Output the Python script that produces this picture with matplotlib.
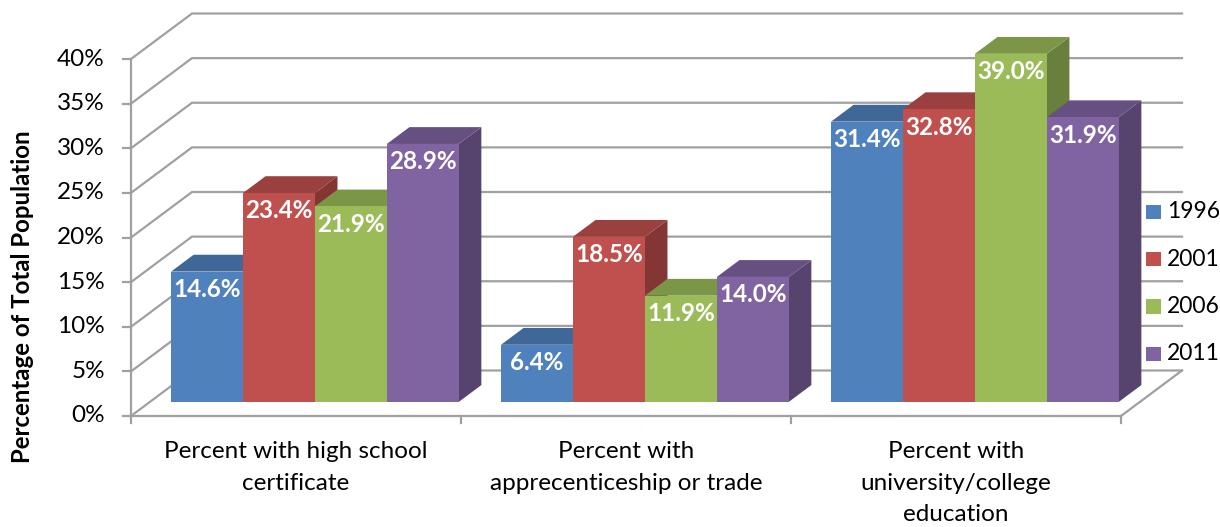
import matplotlib
matplotlib.use("Agg")
import matplotlib.pyplot as plt
from matplotlib.patches import Polygon, Rectangle
from matplotlib.colors import to_rgb

# Education levels by census year
categories = [["Percent with high school", "certificate"],
              ["Percent with", "apprecenticeship or trade"],
              ["Percent with", "university/college", "education"]]
years = ["1996", "2001", "2006", "2011"]
values = {
    "1996": [14.6, 6.4, 31.4],
    "2001": [23.4, 18.5, 32.8],
    "2006": [21.9, 11.9, 39.0],
    "2011": [28.9, 14.0, 31.9],
}
colors = ["#4F81BD", "#C0504D", "#9BBB59", "#8064A2"]
yticks = [0, 5, 10, 15, 20, 25, 30, 35, 40]

plt.rcParams["font.family"] = ["Lato", "DejaVu Sans"]

# oblique projection: depth d in [0, 1] shifts up and to the right
DX = 61 / 330
DY = 45.5 / 8.925
grid_col = "#A0A0A0"
bar_w = 0.218
gap = (1 - 4 * bar_w) / 2
d_front, d_back = 0.31, 0.68


def proj(x, y, d):
    return (x + d * DX, y + d * DY)


def shade(c, f):
    r, g, b = to_rgb(c)
    return (r * f, g * f, b * f)


fig = plt.figure(figsize=(12.2, 5.27), dpi=100)
ax = fig.add_axes([0, 0, 1, 1])
ax.set_xlim(-131 / 330, (1220 - 131) / 330)
ax.set_ylim((416 - 527) / 8.925, 416 / 8.925)
ax.axis("off")

n = len(categories)
lw = 1.6

# back wall gridlines + left wall diagonals
for t in yticks:
    ax.plot(*zip(proj(0, t, 0), proj(0, t, 1), proj(n, t, 1)),
            color=grid_col, lw=lw, zorder=1, solid_joinstyle="miter")
    ax.plot([-0.025, 0], [t, t], color=grid_col, lw=lw, zorder=1)
# left axis line and floor
ax.plot([0, 0], [0, yticks[-1]], color=grid_col, lw=lw, zorder=1)
ax.plot([0, n], [0, 0], color=grid_col, lw=lw, zorder=1)
ax.plot(*zip(proj(n, 0, 0), proj(n, 0, 1)), color=grid_col, lw=lw, zorder=1)
for i in range(n + 1):
    ax.plot([i, i], [0, -0.8], color=grid_col, lw=lw, zorder=1)

# 3D bars, drawn left to right so each covers its neighbour's side face
z = 2
for i in range(n):
    for k, yr in enumerate(years):
        v = values[yr][i]
        c = colors[k]
        x0 = i + gap + k * bar_w
        x1 = x0 + bar_w
        front = [proj(x0, 0, d_front), proj(x1, 0, d_front),
                 proj(x1, v, d_front), proj(x0, v, d_front)]
        top = [proj(x0, v, d_front), proj(x1, v, d_front),
               proj(x1, v, d_back), proj(x0, v, d_back)]
        side = [proj(x1, 0, d_front), proj(x1, 0, d_back),
                proj(x1, v, d_back), proj(x1, v, d_front)]
        ax.add_patch(Polygon(side, closed=True, fc=shade(c, 0.68), ec="none", zorder=z))
        ax.add_patch(Polygon(top, closed=True, fc=shade(c, 0.8), ec="none", zorder=z))
        ax.add_patch(Polygon(front, closed=True, fc=c, ec="none", zorder=z))
        lx, ly = proj((x0 + x1) / 2, v - 2.0, d_front)
        ax.text(lx, ly, f"{v:.1f}%", ha="center", va="center", color="white",
                fontsize=17.5, fontweight="bold", zorder=z + 0.5)
        z += 1

# y tick labels
for t in yticks:
    ax.text(-0.079, t, f"{t}%", ha="right", va="center", fontsize=17.5, color="black")

ax.text(-0.33, 13.4, "Percentage of Total Population", rotation=90, ha="center",
        va="center", fontsize=17.3, fontweight="bold")

# category labels, one baseline per line
for i, lines in enumerate(categories):
    for j, line in enumerate(lines):
        ax.text(i + 0.5, -4.71 - j * 3.53, line, ha="center", va="baseline",
                fontsize=17.5)

# legend
for k, yr in enumerate(years):
    ly = 22.86 - k * 5.3
    ax.add_patch(Rectangle((n + 0.076, ly - 0.8), 0.045, 1.6, fc=colors[k], ec="none"))
    ax.text(n + 0.139, ly, yr, ha="left", va="center", fontsize=16.5)

fig.savefig("out.png", dpi=100)
